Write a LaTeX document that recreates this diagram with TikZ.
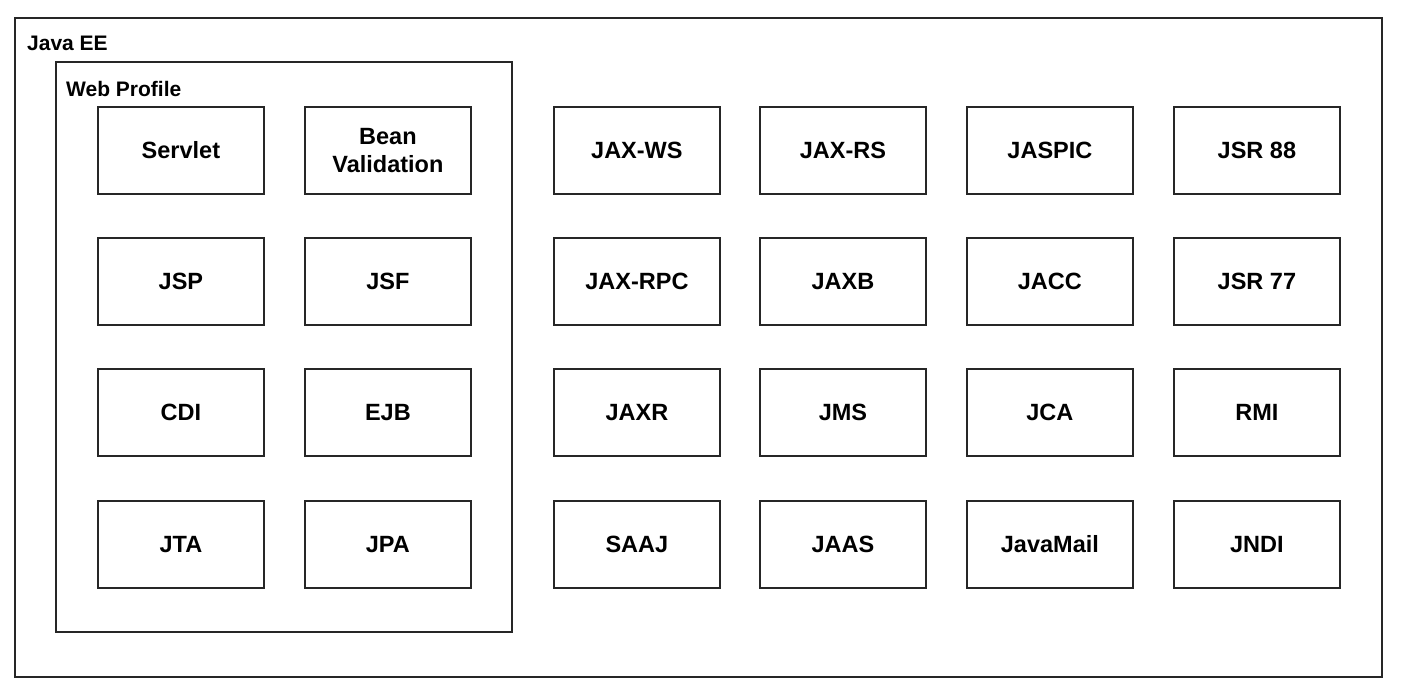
\documentclass[tikz,border=0pt]{standalone}
\usepackage{fontspec}
\setmainfont{Liberation Sans}
\begin{document}
\begin{tikzpicture}[x=1pt,y=-1pt,
  comp/.style={draw=black!85,line width=1.8pt,minimum width=166pt,minimum height=87pt,anchor=north west,inner sep=0pt,align=center,text depth=0pt,font=\fontsize{23.5}{28}\selectfont\bfseries},
  lbl/.style={anchor=north west,inner sep=0pt,font=\fontsize{21}{25}\selectfont\bfseries}]
\useasboundingbox (0,0) rectangle (1402,692);
\draw[line width=1.8pt,black!85] (15,18) rectangle (1382,677);
\node[lbl] (jee) at (27,36) {Java EE};
\draw[line width=1.8pt,black!85] (56,62) rectangle (512,632);
\node[lbl] (wp) at (66,81) {Web Profile};
\foreach \t [count=\i from 0] in {Servlet,{Bean\\Validation},JAX-WS,JAX-RS,JASPIC,JSR 88}{
  \pgfmathsetmacro\xx{{97,304,553,759,966,1173}[\i]}
  \node[comp] (a\i) at (\xx,106) {\t};}
\foreach \t [count=\i from 0] in {JSP,JSF,JAX-RPC,JAXB,JACC,JSR 77}{
  \pgfmathsetmacro\xx{{97,304,553,759,966,1173}[\i]}
  \node[comp] (b\i) at (\xx,237) {\t};}
\foreach \t [count=\i from 0] in {CDI,EJB,JAXR,JMS,JCA,RMI}{
  \pgfmathsetmacro\xx{{97,304,553,759,966,1173}[\i]}
  \node[comp] (c\i) at (\xx,368) {\t};}
\foreach \t [count=\i from 0] in {JTA,JPA,SAAJ,JAAS,JavaMail,JNDI}{
  \pgfmathsetmacro\xx{{97,304,553,759,966,1173}[\i]}
  \node[comp] (d\i) at (\xx,500) {\t};}
\end{tikzpicture}
\end{document}
